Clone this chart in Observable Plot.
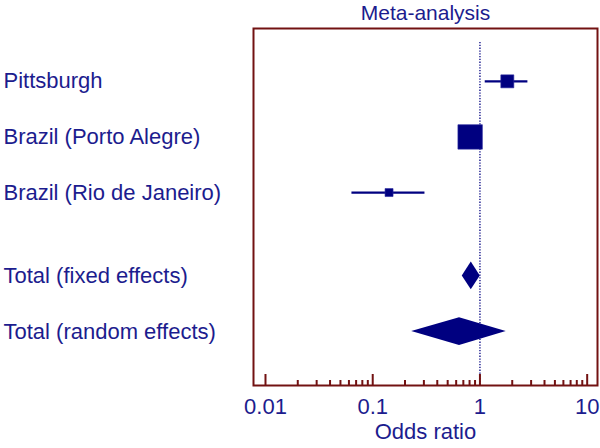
<!DOCTYPE html>
<html>
<head>
<meta charset="utf-8">
<script src="https://cdn.jsdelivr.net/npm/d3@7"></script>
<script src="https://cdn.jsdelivr.net/npm/@observablehq/plot@0.6"></script>
<style>
  html, body { margin: 0; padding: 0; background: #ffffff; }
</style>
</head>
<body>
<div id="chart"></div>
<script>
// ---- data ----
const studyNames = ["Pittsburgh", "Brazil (Porto Alegre)", "Brazil (Rio de Janeiro)"];
const studyRows = [0, 1, 2];
const studyOR = [1.80, 0.81, 0.142];
const studyLo = [1.12, 0.70, 0.064];
const studyHi = [2.80, 0.94, 0.307];
const studyWeight = [20.3, 72.0, 7.7];

const totalNames = ["Total (fixed effects)", "Total (random effects)"];
const totalRows = [3.5, 4.5];
const totalOR = [0.83, 0.645];
const totalLo = [0.684, 0.231];
const totalHi = [1.007, 1.758];

const majorTicks = [0.01, 0.1, 1, 10];
const minorTicks = [0.02,0.03,0.04,0.05,0.06,0.07,0.08,0.09,0.2,0.3,0.4,0.5,0.6,0.7,0.8,0.9,2,3,4,5,6,7,8,9];

const titleText = "Meta-analysis";
const xLabel = "Odds ratio";

// ---- tables ----
const studies = studyNames.map((name, i) => ({name, row: studyRows[i], or: studyOR[i], lo: studyLo[i], hi: studyHi[i], w: studyWeight[i]}));
const totals = totalNames.map((name, i) => ({name, row: totalRows[i], or: totalOR[i], lo: totalLo[i], hi: totalHi[i]}));
const halfH = 0.25; // diamond half height (style)
const diamondPts = totals.flatMap(t => [
  {name: t.name, y: t.row - halfH, x1: t.or, x2: t.or},
  {name: t.name, y: t.row, x1: t.lo, x2: t.hi},
  {name: t.name, y: t.row + halfH, x1: t.or, x2: t.or}
]);
const rowLabels = studies.map(d => ({name: d.name, row: d.row})).concat(totals.map(d => ({name: d.name, row: d.row})));

const navy = "#000080";
const textCol = "#1c1c8e";
const maroon = "#721212";
const font = "Liberation Sans, Arial, Helvetica, sans-serif";

const chart = Plot.plot({
  width: 600,
  height: 448,
  marginTop: 28,
  marginBottom: 63,
  marginLeft: 253,
  marginRight: 3,
  style: {fontFamily: font, background: "#ffffff"},
  x: {type: "log", domain: [0.00773, 12.48], axis: null},
  y: {type: "linear", domain: [5.47, -0.95], axis: null},
  r: {type: "sqrt", domain: [0, 72], range: [0, 13.8]},
  marks: [
    Plot.ruleX([1], {stroke: navy, strokeWidth: 1.3, strokeDasharray: "1.3,1.5", insetTop: 14}),
    Plot.tickX(minorTicks, {x: d => d, stroke: maroon, strokeWidth: 2, insetTop: 352}),
    Plot.tickX(majorTicks, {x: d => d, stroke: maroon, strokeWidth: 2, insetTop: 346}),
    Plot.frame({stroke: maroon, strokeWidth: 2}),
    Plot.ruleY(studies, {y: "row", x1: "lo", x2: "hi", stroke: navy, strokeWidth: 2.2}),
    Plot.dot(studies, {x: "or", y: "row", r: "w", symbol: "square", fill: navy, stroke: "#2a2aa0", strokeWidth: 0.6}),
    Plot.areaX(diamondPts, {y: "y", x1: "x1", x2: "x2", z: "name", fill: navy, curve: "linear"}),
    Plot.text(rowLabels, {y: "row", text: "name", frameAnchor: "left", dx: -250, textAnchor: "start", lineAnchor: "middle", fontSize: 22, fill: textCol}),
    Plot.text(majorTicks, {x: d => d, text: d => String(d), frameAnchor: "bottom", dy: 28, lineAnchor: "bottom", fontSize: 22, fill: textCol}),
    Plot.text([xLabel], {frameAnchor: "bottom", dy: 53, lineAnchor: "bottom", fontSize: 22, fill: textCol}),
    Plot.text([titleText], {frameAnchor: "top", dy: -8.5, lineAnchor: "bottom", fontSize: 21, fill: textCol})
  ]
});
document.getElementById("chart").appendChild(chart);
</script>
</body>
</html>
